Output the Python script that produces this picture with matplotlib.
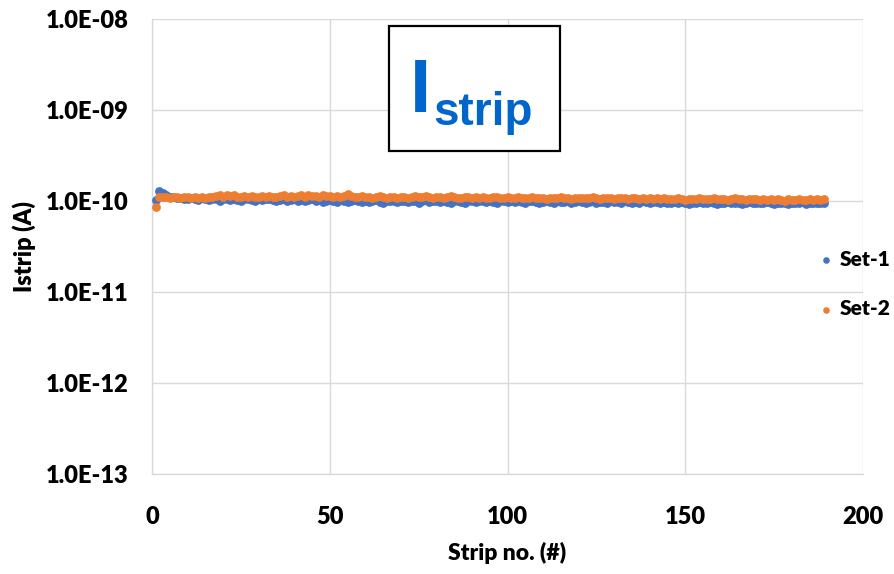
import matplotlib
matplotlib.use("Agg")
import matplotlib.pyplot as plt
from matplotlib.patches import Rectangle
import numpy as np

plt.rcParams['font.family'] = ['Lato', 'DejaVu Sans']

strips = list(range(1, 190))

set1_e11 = [
    10.3, 13.0, 12.2, 11.6, 11.2, 11.0, 10.8, 10.9, 10.6, 10.4,
    10.7, 10.5, 10.3, 10.8, 10.4, 10.2, 10.6, 10.5, 10.1, 10.4,
    10.6, 10.3, 10.5, 10.2, 10.0, 10.4, 10.6, 10.3, 10.1, 10.5,
    10.2, 10.4, 10.6, 10.3, 10.0, 10.2, 10.5, 10.1, 10.3, 10.4,
    10.1, 10.3, 9.9, 10.2, 10.4, 10.0, 10.2, 9.8, 10.1, 10.3,
    10.0, 9.8, 10.2, 10.1, 9.7, 9.9, 10.3, 10.0, 9.8, 10.1,
    9.7, 9.9, 10.2, 9.8, 9.6, 10.0, 9.9, 10.1, 9.7, 9.9,
    10.0, 9.8, 10.1, 9.9, 9.6, 9.9, 10.2, 9.8, 10.0, 9.9,
    9.7, 10.0, 9.8, 9.5, 9.9, 10.1, 9.8, 9.6, 10.0, 9.9,
    9.8, 10.1, 9.9, 9.7, 10.0, 9.8, 9.6, 9.9, 10.1, 9.8,
    9.9, 9.7, 10.0, 9.8, 9.6, 9.9, 10.0, 9.7, 9.5, 9.8,
    10.0, 9.8, 9.6, 9.9, 9.7, 9.8, 10.0, 9.6, 9.8, 9.9,
    9.7, 9.5, 9.8, 9.9, 9.6, 9.8, 9.7, 9.5, 9.9, 9.7,
    9.8, 9.6, 9.9, 9.7, 9.5, 9.8, 9.6, 9.9, 9.7, 9.5,
    9.7, 9.8, 9.5, 9.7, 9.6, 9.4, 9.8, 9.6, 9.7, 9.5,
    9.3, 9.6, 9.5, 9.7, 9.4, 9.6, 9.8, 9.5, 9.3, 9.6,
    9.5, 9.7, 9.4, 9.6, 9.5, 9.3, 9.6, 9.7, 9.4, 9.5,
    9.6, 9.4, 9.7, 9.5, 9.3, 9.6, 9.4, 9.5, 9.2, 9.6,
    9.4, 9.5, 9.7, 9.3, 9.5, 9.4, 9.6, 9.5, 9.4,
]

set2_e11 = [
    8.7, 11.2, 11.0, 11.1, 10.9, 11.0, 11.2, 10.8, 11.0, 11.1,
    10.9, 11.0, 10.8, 11.1, 10.9, 11.2, 11.0, 11.3, 11.5, 11.2,
    11.7, 11.4, 11.6, 11.2, 11.0, 11.3, 11.1, 11.4, 11.2, 11.0,
    11.3, 11.1, 11.4, 11.2, 11.0, 11.3, 11.5, 11.2, 11.4, 11.1,
    11.3, 11.5, 11.2, 11.6, 11.3, 11.4, 11.2, 11.5, 11.3, 11.4,
    11.2, 11.4, 11.1, 11.3, 11.8, 11.4, 11.2, 11.0, 11.3, 11.1,
    11.2, 10.9, 11.1, 11.3, 11.0, 10.8, 11.1, 11.2, 10.9, 11.0,
    11.2, 10.9, 11.1, 11.4, 11.2, 11.0, 11.3, 11.1, 10.9, 11.0,
    11.2, 10.8, 11.0, 11.3, 11.1, 10.9, 10.8, 11.0, 11.2, 10.9,
    11.0, 10.8, 11.1, 10.9, 10.7, 11.0, 11.1, 10.8, 10.9, 11.0,
    10.8, 10.9, 11.0, 10.7, 10.9, 10.8, 11.0, 10.7, 10.9, 10.8,
    10.6, 10.9, 10.8, 10.7, 11.0, 10.8, 10.9, 10.6, 10.8, 10.7,
    10.9, 10.7, 10.8, 11.0, 10.8, 10.6, 10.9, 10.7, 10.8, 10.6,
    10.8, 10.7, 10.9, 10.6, 10.8, 10.7, 10.5, 10.8, 10.6, 10.7,
    10.5, 10.7, 10.6, 10.8, 10.5, 10.6, 10.4, 10.7, 10.5, 10.3,
    10.5, 10.4, 10.6, 10.7, 10.5, 10.4, 10.6, 10.8, 10.5, 10.4,
    10.6, 10.3, 10.5, 10.7, 10.4, 10.5, 10.3, 10.6, 10.4, 10.5,
    10.2, 10.4, 10.3, 10.5, 10.2, 10.4, 10.3, 10.1, 10.4, 10.2,
    10.3, 10.4, 10.2, 10.3, 10.5, 10.2, 10.4, 10.3, 10.4,
]

ytick_vals = [1e-13, 1e-12, 1e-11, 1e-10, 1e-9, 1e-8]
ytick_labels = ["1.0E-13", "1.0E-12", "1.0E-11", "1.0E-10", "1.0E-09", "1.0E-08"]
xtick_vals = [0, 50, 100, 150, 200]
series_names = ["Set-1", "Set-2"]
colors = ["#4472C4", "#ED7D31"]

fig = plt.figure(figsize=(8.94, 5.74), dpi=100)
ax = fig.add_axes([152/894, 1-474/574, (863-152)/894, (474-19)/574])

y1 = np.array(set1_e11) * 1e-11
y2 = np.array(set2_e11) * 1e-11
ax.scatter(strips, y1, s=40, color=colors[0], label=series_names[0], zorder=3, linewidths=0)
ax.scatter(strips, y2, s=40, color=colors[1], label=series_names[1], zorder=4, linewidths=0)

ax.set_yscale('log')
ax.set_ylim(1e-13, 1e-8)
ax.set_xlim(0, 200)
ax.set_yticks(ytick_vals)
ax.set_yticklabels(ytick_labels)
ax.yaxis.set_minor_locator(matplotlib.ticker.NullLocator())
ax.set_xticks(xtick_vals)
ax.set_xticklabels([str(v) for v in xtick_vals])
ax.grid(True, color="#d9d9d9", linewidth=1.0, zorder=0)
ax.set_axisbelow(True)
for s in ["top", "right"]:
    ax.spines[s].set_visible(False)
for s in ["left", "bottom"]:
    ax.spines[s].set_color("#d9d9d9")
    ax.spines[s].set_linewidth(1.0)
ax.tick_params(length=0, labelsize=17)
ax.tick_params(axis='y', pad=17)
ax.tick_params(axis='x', pad=23)
for lab in ax.get_xticklabels() + ax.get_yticklabels():
    lab.set_fontweight('heavy')

ax.set_xlabel("Strip no. (#)", fontsize=16.5, fontweight='heavy', labelpad=10)
ax.set_ylabel("Istrip (A)", fontsize=17, fontweight='heavy', labelpad=7)

leg = fig.legend(loc='center left', bbox_to_anchor=(820/894, 1-284/574), frameon=False,
                 fontsize=15, handletextpad=0.35, labelspacing=1.45, markerscale=0.75,
                 borderaxespad=0, borderpad=0, handlelength=0.6)
for t in leg.get_texts():
    t.set_fontweight('heavy')

# title box
fig.patches.append(Rectangle((389/894, 1-151/574), (560-389)/894, (151-26)/574,
                             transform=fig.transFigure, fill=True, facecolor='white',
                             edgecolor='black', linewidth=1.6, zorder=5))
fig.text(410/894, 1-112/574, "I", fontsize=55, fontweight='bold', color="#0066CC",
         family="Liberation Sans", ha='left', va='baseline', zorder=6)
fig.text(433/894, 1-125/574, "strip", fontsize=33, fontweight='bold', color="#0066CC",
         family="Liberation Sans", ha='left', va='baseline', zorder=6)

fig.savefig("out.png", dpi=100)
